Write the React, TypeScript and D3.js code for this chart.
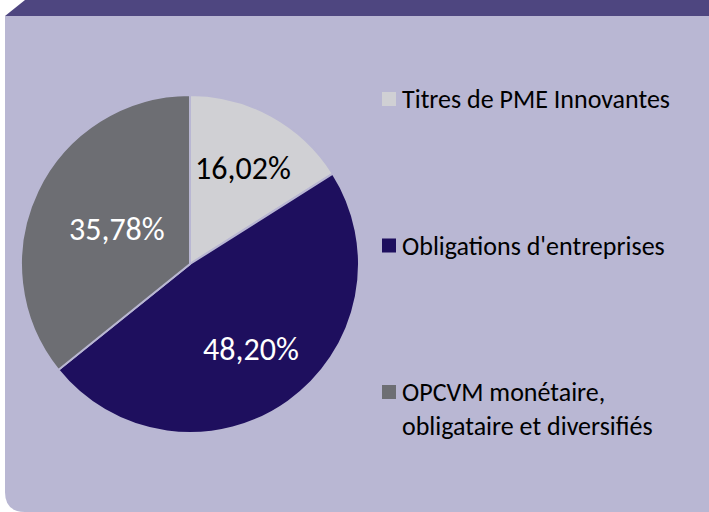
import React, { useEffect, useRef } from 'react';
import * as d3 from 'd3';

const categories = ['Titres de PME Innovantes', "Obligations d'entreprises", 'OPCVM monétaire,|obligataire et diversifiés'];
const shares = [16.02, 48.2, 35.78];
const sliceLabels = ['16,02%', '48,20%', '35,78%'];
const colors = ['#d0d0d4', '#1e0f5e', '#6d6e73'];
const labelColors = ['#000000', '#ffffff', '#ffffff'];
const labelRadius = [0.65, 0.62, 0.48]; // fraction of the pie radius, per slice

const App = () => {
  const svgRef = useRef<SVGSVGElement>(null);

  useEffect(() => {
    const width = 709;
    const height = 512;
    const svg = d3.select(svgRef.current).attr('width', width).attr('height', height);
    svg.selectAll('*').remove();

    const font = "Carlito, Calibri, 'Open Sans', sans-serif";

    // background panel with rounded bottom-left corner
    svg.append('rect').attr('width', width).attr('height', height).attr('fill', '#ffffff');
    svg
      .append('path')
      .attr('d', `M5,16 L${width},16 L${width},${height} L25,${height} Q5,${height} 5,${height - 20} Z`)
      .attr('fill', '#b9b7d3');
    // top band
    svg
      .append('path')
      .attr('d', `M5,16 L25,0 L${width},0 L${width},16 Z`)
      .attr('fill', '#4e4680');

    const cx = 190;
    const cy = 264;
    const r = 169;

    const pie = d3.pie<number>().sort(null).value((d) => d);
    const arcs = pie(shares);
    const arc = d3.arc<d3.PieArcDatum<number>>().innerRadius(0).outerRadius(r);

    const g = svg.append('g').attr('transform', `translate(${cx},${cy})`);
    g.selectAll('path.slice')
      .data(arcs)
      .join('path')
      .attr('class', 'slice')
      .attr('d', arc)
      .attr('fill', (d, i) => colors[i])
      .attr('stroke', '#b9b7d3')
      .attr('stroke-width', 2);

    g.selectAll('text.lbl')
      .data(arcs)
      .join('text')
      .attr('class', 'lbl')
      .attr('transform', (d, i) => {
        const lr = r * labelRadius[i];
        const c = d3.arc<d3.PieArcDatum<number>>().innerRadius(lr).outerRadius(lr).centroid(d);
        return `translate(${c})`;
      })
      .attr('text-anchor', 'middle')
      .attr('dy', '0.35em')
      .attr('fill', (d, i) => labelColors[i])
      .style('font-family', font)
      .style('font-size', '32px')
      .text((d, i) => sliceLabels[i]);

    // legend
    const legendY = d3.scaleLinear().domain([0, 2]).range([99, 392]);
    const legend = svg
      .selectAll('g.leg')
      .data(categories)
      .join('g')
      .attr('class', 'leg')
      .attr('transform', (d, i) => `translate(382,${legendY(i)})`);
    legend
      .append('rect')
      .attr('x', 0)
      .attr('y', -7)
      .attr('width', 14)
      .attr('height', 14)
      .attr('fill', (d, i) => colors[i]);
    legend.each(function (d) {
      const lines = d.split('|');
      const t = d3
        .select(this)
        .append('text')
        .attr('x', 20)
        .attr('y', 0)
        .attr('fill', '#000000')
        .style('font-family', font)
        .style('font-size', '26px');
      lines.forEach((line, j) => {
        t.append('tspan').attr('x', 20).attr('dy', j === 0 ? '0.35em' : '1.3em').text(line);
      });
    });
  }, []);

  return <svg ref={svgRef} style={{ position: 'absolute', left: 0, top: 0 }}></svg>;
};

export default App;
